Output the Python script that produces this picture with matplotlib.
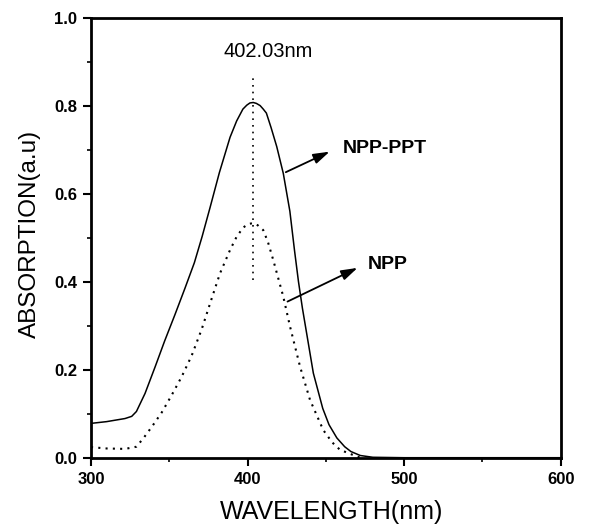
import matplotlib as mpl
mpl.use('Agg')
import matplotlib.pyplot as plt
import numpy as np

plt.rcParams['font.family'] = ['Liberation Sans', 'DejaVu Sans']

# ----------------------------------------------------------------------
# --- data

# NPP-PPT (solid line)
wl_npp_ppt = [300, 310, 321.7, 326, 329, 334.5, 341, 347, 353.6, 360, 366, 371, 376,
              382, 388.8, 393, 397, 399.5, 401.5, 403.6, 405.6, 408, 410, 412, 415,
              418.6, 422.8, 427, 430, 432.5, 435, 437.7, 442, 448, 452, 457, 462,
              466, 472, 480, 500, 550, 600]
abs_npp_ppt = [0.078, 0.082, 0.089, 0.094, 0.105, 0.146, 0.207, 0.265, 0.325, 0.385,
               0.443, 0.503, 0.568, 0.648, 0.728, 0.765, 0.792, 0.801, 0.806, 0.807,
               0.805, 0.800, 0.792, 0.783, 0.750, 0.707, 0.646, 0.560, 0.470, 0.400,
               0.340, 0.283, 0.192, 0.112, 0.075, 0.045, 0.025, 0.014, 0.005, 0.001,
               0.0, 0.0, 0.0]

# NPP (dotted line)
wl_npp = [300, 310, 321.7, 329, 333.4, 338.8, 345.2, 351.5, 357.9, 364.3, 370.7, 377.1,
          382.4, 388.8, 393, 397.2, 400.5, 403.6, 406.5, 410, 413, 416.4, 422.8, 427.1,
          433.5, 439.9, 448.3, 454, 459, 467.5, 472]
abs_npp = [0.024, 0.021, 0.020, 0.025, 0.044, 0.070, 0.103, 0.142, 0.184, 0.232, 0.292,
           0.362, 0.419, 0.472, 0.502, 0.523, 0.531, 0.533, 0.528, 0.517, 0.490, 0.449,
           0.366, 0.298, 0.207, 0.131, 0.063, 0.035, 0.018, 0.006, 0.0]

peak_wl = 403.6
peak_label = '402.03nm'

# ----------------------------------------------------------------------
# --- figure

fig = plt.figure(figsize=(5.91, 5.24), dpi=100)
ax = fig.add_axes([0.154, 0.1265, 0.7948, 0.840])

dots = (0, (1, 2.5))

ax.plot(wl_npp_ppt, abs_npp_ppt, color='k', lw=1.1)
ax.plot(wl_npp, abs_npp, color='k', lw=1.5, ls=dots)

# --- peak marker
ax.plot([peak_wl, peak_wl], [0.404, 0.866], color='k', lw=1.2, ls=(0, (1, 3)))
ax.text(413, 0.923, peak_label, ha='center', va='center', fontsize=14.5)

# --- arrows + labels
arrow = dict(arrowstyle='-|>,head_length=0.7,head_width=0.22', color='k', lw=1.3,
             mutation_scale=14)
ax.annotate('', xy=(454, 0.698), xytext=(422.8, 0.646), arrowprops=arrow)
ax.text(461, 0.702, 'NPP-PPT', ha='left', va='center', fontsize=14, fontweight='bold')
ax.annotate('', xy=(471.8, 0.434), xytext=(423.9, 0.352), arrowprops=arrow)
ax.text(477, 0.440, 'NPP', ha='left', va='center', fontsize=14, fontweight='bold')

# --- axes
ax.set_xlim(300, 600)
ax.set_ylim(0, 1.0)
ax.set_xticks([300, 400, 500, 600])
ax.set_xticks([350, 450, 550], minor=True)
ax.set_yticks([0.0, 0.2, 0.4, 0.6, 0.8, 1.0])
ax.set_yticks([0.1, 0.3, 0.5, 0.7, 0.9], minor=True)
ax.set_yticklabels(['0.0', '0.2', '0.4', '0.6', '0.8', '1.0'])

ax.tick_params(which='major', direction='out', length=6, width=1.5, labelsize=12, pad=4)
ax.tick_params(which='minor', direction='out', length=3, width=1.2)
for lab in ax.get_xticklabels() + ax.get_yticklabels():
    lab.set_fontweight('bold')
for s in ax.spines.values():
    s.set_linewidth(2.0)

ax.set_xlabel('WAVELENGTH(nm)', fontsize=18)
ax.xaxis.label.set_va('baseline')
ax.xaxis.set_label_coords(0.513, -0.14)
ax.set_ylabel('ABSORPTION(a.u)', fontsize=17.5)
ax.yaxis.label.set_va('baseline')
ax.yaxis.set_label_coords(-0.117, 0.508)

fig.savefig('out.png', dpi=100)
